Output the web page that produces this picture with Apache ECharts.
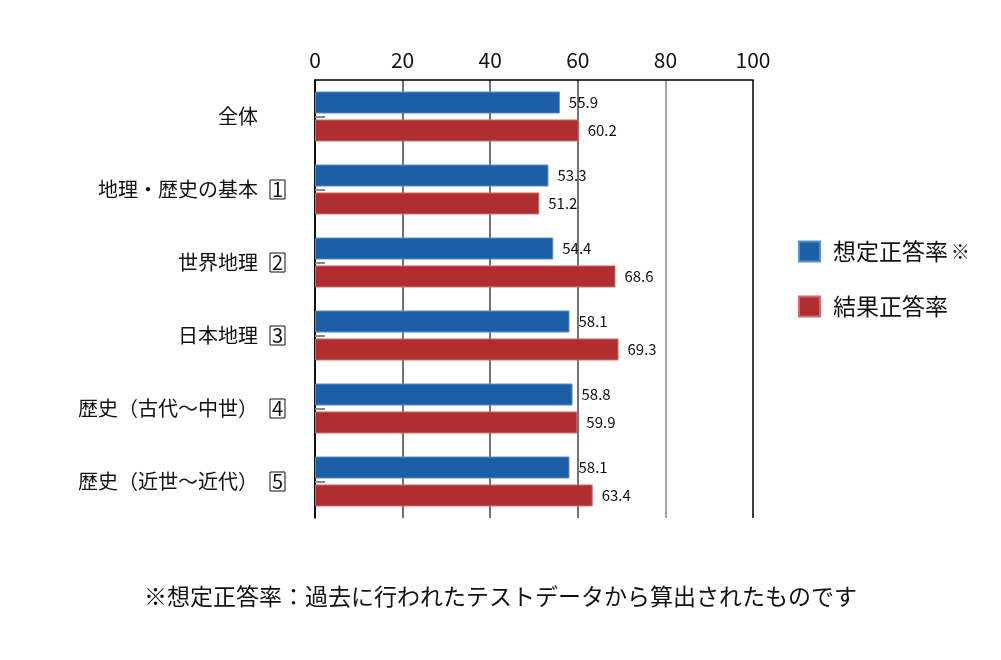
<!DOCTYPE html>
<html>
<head>
<meta charset="utf-8">
<script src="https://cdn.jsdelivr.net/npm/echarts@6/dist/echarts.min.js"></script>
<style>
  html, body { margin: 0; padding: 0; background: #fff; }
  #chart { width: 1001px; height: 660px; }
</style>
</head>
<body>
<div id="chart"></div>
<script>
// 分類と設問番号
const categories = ['全体', '地理・歴史の基本', '世界地理', '日本地理', '歴史（古代〜中世）', '歴史（近世〜近代）']
const boxNumbers = ['', '1', '2', '3', '4', '5']
// 想定正答率・結果正答率
const expectedRates = [55.9, 53.3, 54.4, 58.1, 58.8, 58.1]
const resultRates = [60.2, 51.2, 68.6, 69.3, 59.9, 63.4]
const xTicks = [0, 20, 40, 60, 80, 100]

const FONT = '"Noto Sans CJK JP", "Noto Sans", sans-serif'
const chart = echarts.init(document.getElementById('chart'))

const valueLabel = {
  show: true,
  position: 'right',
  distance: 9,
  color: '#111',
  fontSize: 15,
  fontFamily: FONT,
  formatter: (p) => p.value.toFixed(1)
}

const option = {
  animation: false,
  textStyle: { fontFamily: FONT },
  title: {
    text: '※想定正答率：過去に行われたテストデータから算出されたものです',
    left: 'center',
    top: 580,
    textStyle: { fontSize: 23, fontWeight: 'normal', color: '#111', fontFamily: FONT }
  },
  legend: {
    orient: 'vertical',
    left: 798,
    top: 240,
    padding: 0,
    itemWidth: 21,
    itemHeight: 20,
    itemGap: 32,
    icon: 'rect',
    formatter: (name) => name === '想定正答率' ? '{a|想定正答率} {s|※}' : '{a|' + name + '}',
    textStyle: {
      padding: [0, 0, 0, 8],
      rich: {
        a: { fontSize: 23, color: '#111', fontFamily: FONT },
        s: { fontSize: 19, color: '#111', fontFamily: FONT }
      }
    }
  },
  grid: {
    left: 315,
    right: 248,
    top: 80,
    height: 438
  },
  xAxis: {
    type: 'value',
    position: 'top',
    min: 0,
    max: 100,
    interval: 20,
    axisLine: { show: true, lineStyle: { color: '#000', width: 1.5 } },
    axisTick: { show: false },
    axisLabel: {
      margin: 9,
      fontSize: 21,
      color: '#111',
      fontFamily: FONT,
      formatter: (v) => xTicks.includes(v) ? String(v) : ''
    },
    splitLine: {
      show: true,
      lineStyle: { color: ['#000', '#444', '#444', '#444', '#888', '#000'], width: 1.5 }
    }
  },
  yAxis: {
    type: 'category',
    data: categories,
    inverse: true,
    axisLine: { show: true, lineStyle: { color: '#000', width: 1.5 } },
    axisTick: { show: true, inside: true, alignWithLabel: true, length: 10, lineStyle: { color: '#888', width: 2 } },
    axisLabel: {
      margin: 30,
      formatter: (value, idx) => {
        const n = boxNumbers[idx]
        return n ? '{t|' + value + '}{g|}{b|' + n + '}' : '{t|' + value + '}{g|}{e|}'
      },
      rich: {
        t: { fontSize: 20, color: '#111', fontFamily: FONT },
        g: { width: 12 },
        b: {
          fontSize: 20, color: '#111', fontFamily: FONT, width: 15, height: 19, lineHeight: 19,
          align: 'center', borderColor: '#111', borderWidth: 1
        },
        e: { width: 15, height: 19 }
      }
    }
  },
  series: [
    {
      name: '想定正答率',
      type: 'bar',
      data: expectedRates,
      barWidth: 22,
      barGap: '27%',
      itemStyle: { color: '#1c5fa6', borderColor: '#5b8cc4', borderWidth: 1 },
      label: valueLabel
    },
    {
      name: '結果正答率',
      type: 'bar',
      data: resultRates,
      barWidth: 22,
      itemStyle: { color: '#b02e30', borderColor: '#d06a6a', borderWidth: 1 },
      label: valueLabel
    }
  ]
}

chart.setOption(option)
</script>
</body>
</html>
